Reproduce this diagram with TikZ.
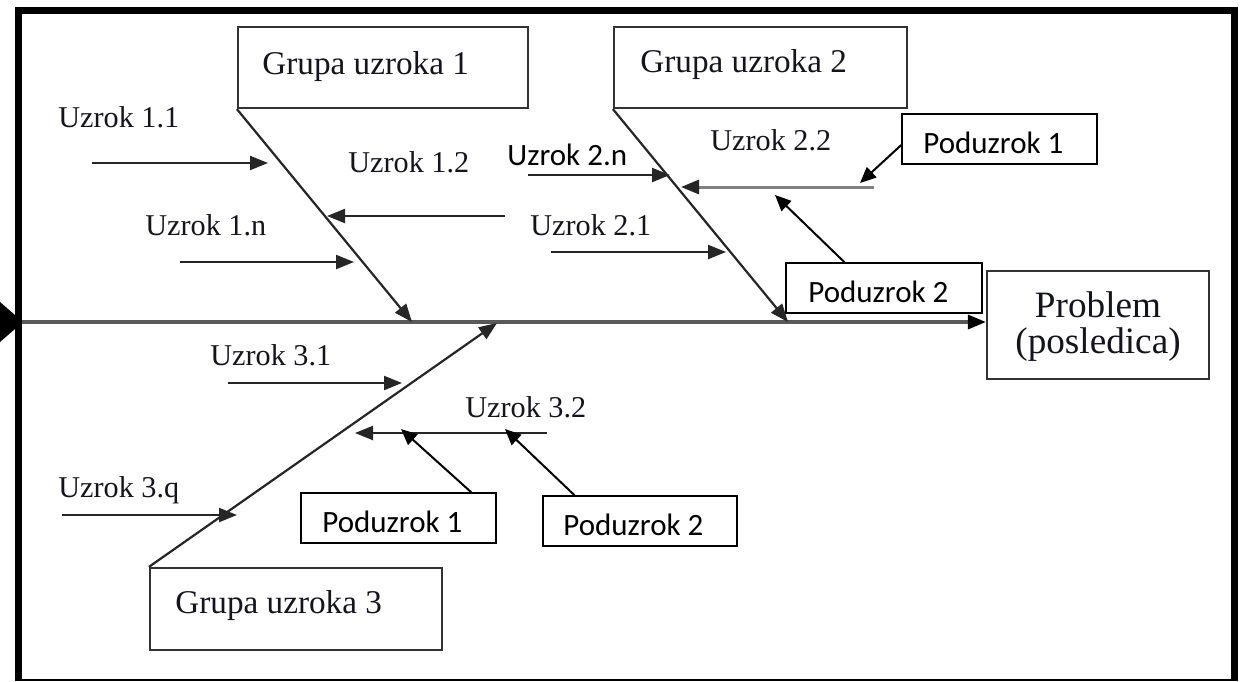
\documentclass[tikz,border=0pt]{standalone}
\usepackage{fontspec}
\setmainfont{Liberation Serif}
\newfontfamily\calib{Carlito}
\usetikzlibrary{arrows.meta,calc}
\definecolor{ink}{HTML}{14141E}
\begin{document}
\begin{tikzpicture}[x=0.5pt,y=-0.5pt,
  grp/.style={draw=black!80, line width=1.1pt, minimum width=#1, inner sep=0pt},
  gtext/.style={anchor=base west, inner sep=0pt, text=ink, font=\fontsize{16.6}{19}\selectfont},
  ctext/.style={anchor=base west, inner sep=0pt, text=ink, font=\fontsize{15.1}{18}\selectfont},
  ptext/.style={anchor=base, inner sep=0pt, text=ink, font=\fontsize{18.6}{21}\selectfont},
  sbox/.style={draw=black, line width=0.75pt, inner sep=0pt, minimum width=97.5pt, minimum height=25pt},
  stext/.style={anchor=base west, inner sep=0pt, font=\calib\fontsize{15.5}{18}\selectfont},
  bone/.style={draw=black!85, line width=1.1pt, -{Triangle[length=9pt,width=7pt]}},
  cause/.style={draw=black!85, line width=1.1pt, -{Triangle[length=9pt,width=7pt]}},
  sub/.style={draw=black, line width=1pt, -{Triangle[length=8pt,width=7pt]}},
  spine/.style={draw=black!65, line width=1.6pt, -{Triangle[length=9pt,width=7pt,fill=black,color=black]}}
]
\useasboundingbox (0,0) rectangle (1243,681);
\fill[white] (0,0) rectangle (1243,681);

% frame
\draw[line width=3.5pt] (18.5,681) -- (18.5,10.5) -- (1234,10.5) -- (1234,681);
\draw[line width=0.8pt] (15,680) -- (1238,680);
\fill[black] (0,302) -- (23,322) -- (0,342) -- cycle;

% group boxes
\node[grp=145pt, minimum height=40.5pt] (g1) at (383,67.5) {};
\node[grp=146.5pt, minimum height=40.5pt] (g2) at (760.5,67.5) {};
\node[grp=146pt, minimum height=41pt] (g3) at (296,609) {};
\node[gtext] (g1t) at (262,74) {Grupa uzroka 1};
\node[gtext] (g2t) at (640,72) {Grupa uzroka 2};
\node[gtext] (g3t) at (175,613) {Grupa uzroka 3};

% problem box
\node[grp=111pt, minimum height=54pt] (prob) at (1098,325) {};
\node[ptext] (pt1) at (1098,317) {Problem};
\node[ptext] (pt2) at (1098,353) {(posledica)};

% spine
\coordinate (tail) at (22,322);
\draw[spine] (tail) -- (tail -| prob.west);

% bones
\coordinate (b1) at (412,322);
\coordinate (b2) at (788,322);
\coordinate (b3) at (497,323);
\draw[bone] (g1.south west) -- (b1);
\draw[bone] (g2.south west) -- (b2);
\draw[bone] (g3.north west) -- (b3);

% causes group 1
\node[ctext] (u11) at (58,127) {Uzrok 1.1};
\node[ctext] (u12) at (348,172) {Uzrok 1.2};
\node[ctext] (u1n) at (145,235) {Uzrok 1.n};
\coordinate (a11s) at (92,163);  \coordinate (a11e) at (268,163);
\coordinate (a12s) at (505,216); \coordinate (a12e) at (327,216);
\coordinate (a1ns) at (180,262); \coordinate (a1ne) at (354,262);
\draw[cause] (a11s) -- (a11e);
\draw[cause] (a12s) -- (a12e);
\draw[cause] (a1ns) -- (a1ne);

% causes group 2
\node[stext] (u2n) at (507,165) {Uzrok 2.n};
\node[ctext] (u22) at (710,150) {Uzrok 2.2};
\node[ctext] (u21) at (530,235) {Uzrok 2.1};
\coordinate (a2ns) at (528,175); \coordinate (a2ne) at (670,175);
\coordinate (a22s) at (874,187); \coordinate (a22e) at (681,187);
\coordinate (a21s) at (551,252); \coordinate (a21e) at (726,252);
\draw[cause] (a2ns) -- (a2ne);
\draw[draw=black!50, line width=1.5pt, -{Triangle[length=9pt,width=7pt,fill=black!85,color=black!85]}] (a22s) -- (a22e);
\draw[cause] (a21s) -- (a21e);

% causes group 3
\node[ctext] (u31) at (210,365) {Uzrok 3.1};
\node[ctext] (u32) at (465,417) {Uzrok 3.2};
\node[ctext] (u3q) at (58,497) {Uzrok 3.q};
\coordinate (a31s) at (228,383); \coordinate (a31e) at (402,383);
\coordinate (a32s) at (547,433); \coordinate (a32e) at (355,433);
\coordinate (a3qs) at (62,515);  \coordinate (a3qe) at (237,515);
\draw[cause] (a31s) -- (a31e);
\draw[cause] (a32s) -- (a32e);
\draw[cause] (a3qs) -- (a3qe);

% sub-causes
\node[sbox] (p21) at (999.5,139) {};
\node[stext] at (923,153) {Poduzrok 1};
\node[sbox, minimum width=98pt] (p22) at (884,288) {};
\node[stext] at (808,302) {Poduzrok 2};
\node[sbox] (p31) at (398.5,518) {};
\node[stext] at (322,532) {Poduzrok 1};
\node[sbox, minimum width=97pt] (p32) at (640,521) {};
\node[stext] at (563,535) {Poduzrok 2};

\coordinate (s21) at (860,183);
\coordinate (s22) at (775,195);
\coordinate (s31) at (401,429);
\coordinate (s32) at (505,429);
\draw[sub] ($(p21.west)+(0,6)$) -- (s21);
\draw[sub] ($(p22.north west)!0.3!(p22.north east)$) -- (s22);
\draw[sub] ($(p31.north west)!0.87!(p31.north east)$) -- (s31);
\draw[sub] ($(p32.north west)!0.165!(p32.north east)$) -- (s32);
\end{tikzpicture}
\end{document}
